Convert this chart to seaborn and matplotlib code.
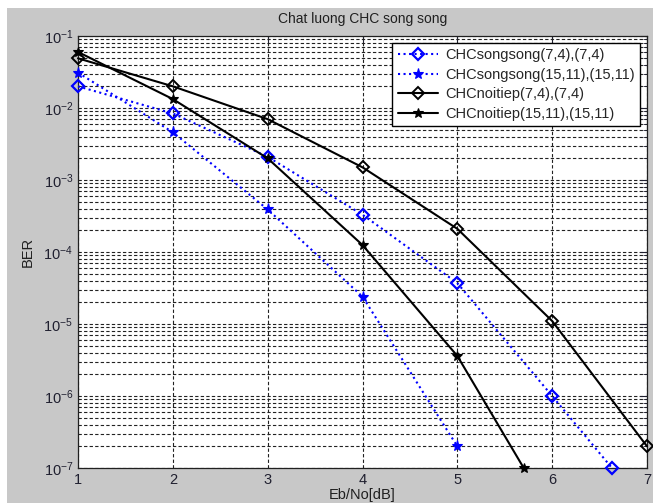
import numpy as np
import pandas as pd
import matplotlib
matplotlib.use('Agg')
import matplotlib.pyplot as plt
import matplotlib.ticker as mticker
from matplotlib.patches import Rectangle
import seaborn as sns

# ---- data ----
x_ss74 = [1, 2, 3, 4, 5, 6, 6.63]
ber_ss74 = [0.020, 0.0084, 0.0021, 3.3e-4, 3.7e-5, 1.0e-6, 1.0e-7]

x_ss1511 = [1, 2, 3, 4, 5]
ber_ss1511 = [0.031, 0.0046, 3.9e-4, 2.4e-5, 2.0e-7]

x_nt74 = [1, 2, 3, 4, 5, 6, 7]
ber_nt74 = [0.049, 0.020, 0.0070, 1.5e-3, 2.1e-4, 1.1e-5, 2.0e-7]

x_nt1511 = [1, 2, 3, 4, 5, 5.7]
ber_nt1511 = [0.060, 0.0133, 2.0e-3, 1.25e-4, 3.6e-6, 1.0e-7]

labels = ['CHCsongsong(7,4),(7,4)', 'CHCsongsong(15,11),(15,11)',
          'CHCnoitiep(7,4),(7,4)', 'CHCnoitiep(15,11),(15,11)']

x_ticks = [1, 2, 3, 4, 5, 6, 7]
y_exponents = [-7, -6, -5, -4, -3, -2, -1]

# ---- style ----
sns.set_style('white')
plt.rcParams['font.family'] = ['Liberation Sans', 'DejaVu Sans']
plt.rcParams['mathtext.fontset'] = 'custom'
plt.rcParams['mathtext.rm'] = 'Liberation Sans'
plt.rcParams['mathtext.it'] = 'Liberation Sans'
plt.rcParams['mathtext.bf'] = 'Liberation Sans'

fig = plt.figure(figsize=(6.53, 5.03), dpi=100, facecolor='white')
# gray MATLAB window background (screenshot has a thin white border top/left)
fig.patches.append(Rectangle((7 / 653, 0), 1, (503 - 8) / 503, transform=fig.transFigure,
                             facecolor='#c8c8c8', edgecolor='none', zorder=-10))
ax = fig.add_axes([78 / 653, 35 / 503, 569 / 653, 432 / 503])
ax.set_facecolor('white')

blue = '#0000ff'
series = [
    (x_ss74, ber_ss74, dict(color=blue, linestyle=':', marker='D', markersize=6,
                            markerfacecolor='none', markeredgecolor=blue, markeredgewidth=1.6)),
    (x_ss1511, ber_ss1511, dict(color=blue, linestyle=':', marker='*', markersize=8,
                                markerfacecolor=blue, markeredgecolor=blue, markeredgewidth=0.8)),
    (x_nt74, ber_nt74, dict(color='black', linestyle='-', marker='D', markersize=6,
                            markerfacecolor='none', markeredgecolor='black', markeredgewidth=1.4)),
    (x_nt1511, ber_nt1511, dict(color='black', linestyle='-', marker='*', markersize=7,
                                markerfacecolor='black', markeredgecolor='black', markeredgewidth=0.8)),
]

for (xs, ys, kw), lab in zip(series, labels):
    df = pd.DataFrame({'EbNo': xs, 'BER': ys})
    sns.lineplot(data=df, x='EbNo', y='BER', ax=ax, label=lab, linewidth=1.5,
                 clip_on=False, zorder=5, **kw)

ax.set_yscale('log')
ax.set_xlim(1, 7)
ax.set_ylim(1e-7, 1e-1)
ax.set_xticks(x_ticks)
major_y = [10.0 ** e for e in y_exponents]
minor_y = [m * 10.0 ** e for e in y_exponents[:-1] for m in range(2, 10)]
ax.yaxis.set_major_locator(mticker.FixedLocator(major_y))
ax.yaxis.set_minor_locator(mticker.FixedLocator(minor_y))
ax.yaxis.set_major_formatter(mticker.FuncFormatter(lambda v, p: r'$10^{%d}$' % round(np.log10(v))))
ax.yaxis.set_minor_formatter(mticker.NullFormatter())

grid_kw = dict(color='#222222', linestyle=(0, (3, 2)), linewidth=0.8)
ax.grid(True, which='major', axis='both', **grid_kw)
ax.grid(True, which='minor', axis='y', **grid_kw)
ax.set_axisbelow(True)

ax.tick_params(axis='both', which='both', direction='in', colors='#202030',
               labelsize=10.5, top=True, right=True)
ax.tick_params(which='major', length=5, width=0.8)
ax.tick_params(which='minor', length=3, width=0.6)
for s in ax.spines.values():
    s.set_color('#202020')
    s.set_linewidth(0.9)

ax.set_title('Chat luong CHC song song', fontsize=10, color='#202020', pad=9)
ax.set_ylabel('BER', fontsize=10.5, color='#202020', labelpad=6)
ax.set_xlabel('Eb/No[dB]', fontsize=10.5, color='#202020', labelpad=1)

leg = ax.legend(loc='upper right', fontsize=10.5, frameon=True, fancybox=False,
                framealpha=1, edgecolor='black', handlelength=2.75,
                labelspacing=0.38, borderaxespad=0.5, borderpad=0.35,
                handletextpad=0.5)
leg.get_frame().set_linewidth(1.0)

fig.savefig('out.png', dpi=100, facecolor=fig.get_facecolor())
